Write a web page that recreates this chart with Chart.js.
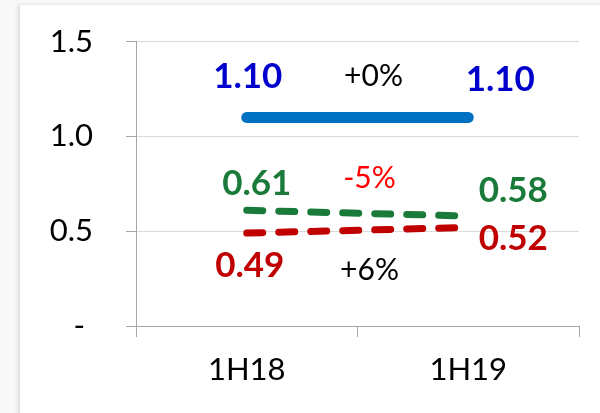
<!DOCTYPE html>
<html>
<head>
<meta charset="utf-8">
<script src="https://cdn.jsdelivr.net/npm/chart.js@4"></script>
<style>
  html, body { margin: 0; padding: 0; background: #f8f8f8; }
  #wrap { position: relative; width: 600px; height: 413px; overflow: hidden; }
  #card { position: absolute; left: 20px; top: 5px; width: 600px; height: 420px; background: #fff;
          box-shadow: -2px 0 4px rgba(0,0,0,0.12); }
  canvas { position: absolute; left: 0; top: -10px; }
</style>
</head>
<body>
<div id="wrap">
  <div id="card"></div>
  <canvas id="chart" width="600" height="423"></canvas>
</div>
<script>
// dati
const categories = ['1H18', '1H19'];
const blueValues = [1.10, 1.10];
const greenValues = [0.61, 0.58];
const redValues = [0.49, 0.52];
const changeLabels = ['+0%', '-5%', '+6%'];
const yTicks = [0, 0.5, 1.0, 1.5];

const FONT = 'Lato, "Open Sans", sans-serif';

// posizione delle etichette rispetto ai punti (dx, dy)
const valueLabelStyle = [
  { color: '#0000CC', offs: [[1, -41], [32, -38]] },
  { color: '#1A7A3A', offs: [[10, -27], [45, -25]] },
  { color: '#C00000', offs: [[3, 33], [45, 11]] }
];
const changeStyle = [
  { color: '#000000', dx: 16, dy: -41 },
  { color: '#FF0000', dx: 12, dy: -35 },
  { color: '#000000', dx: 12, dy: 40 }
];

// disegna etichette dei valori e variazioni percentuali
const labelPlugin = {
  id: 'labels',
  afterDatasetsDraw(chart) {
    const ctx = chart.ctx;
    const xs = chart.scales.x, ys = chart.scales.y;
    ctx.save();
    ctx.textAlign = 'center';
    ctx.textBaseline = 'middle';
    chart.data.datasets.forEach((ds, i) => {
      const st = valueLabelStyle[i];
      ctx.font = 'bold 35px ' + FONT;
      ctx.fillStyle = st.color;
      ds.data.forEach((v, j) => {
        const x = xs.getPixelForValue(j) + st.offs[j][0];
        const y = ys.getPixelForValue(v) + st.offs[j][1];
        ctx.fillText(v.toFixed(2), x, y);
      });
      const cs = changeStyle[i];
      const midX = (xs.getPixelForValue(0) + xs.getPixelForValue(1)) / 2;
      const midY = ys.getPixelForValue((ds.data[0] + ds.data[1]) / 2);
      ctx.font = '30px ' + FONT;
      ctx.fillStyle = cs.color;
      ctx.fillText(changeLabels[i], midX + cs.dx, midY + cs.dy);
    });
    ctx.restore();
  }
};

new Chart(document.getElementById('chart'), {
  type: 'line',
  data: {
    labels: categories,
    datasets: [
      { data: blueValues, borderColor: '#0070C0', borderWidth: 11, borderCapStyle: 'round', pointRadius: 0 },
      { data: greenValues, borderColor: '#1A7A3A', borderWidth: 7, borderDash: [16, 16], borderCapStyle: 'round', pointRadius: 0 },
      { data: redValues, borderColor: '#C00000', borderWidth: 7, borderDash: [16, 16], borderCapStyle: 'round', pointRadius: 0 }
    ]
  },
  options: {
    responsive: false,
    animation: false,
    layout: { padding: { top: 0, right: 21, left: 0, bottom: 0 } },
    plugins: { legend: { display: false }, tooltip: { enabled: false } },
    scales: {
      x: {
        offset: true,
        grid: { offset: true, drawOnChartArea: false, tickLength: 11, tickColor: '#a6a6a6' },
        border: { color: '#a6a6a6', width: 1 },
        ticks: { color: '#000', font: { family: FONT, size: 31 }, padding: 14 },
        afterFit: s => { s.height = 87; }
      },
      y: {
        min: 0, max: 1.5,
        afterBuildTicks: s => { s.ticks = yTicks.map(v => ({ value: v })); },
        grid: { color: '#d9d9d9', tickLength: 10, tickColor: '#a6a6a6' },
        border: { color: '#a6a6a6', width: 1 },
        ticks: {
          color: '#000', font: { family: FONT, size: 31 }, padding: 33,
          callback: v => v === 0 ? '- ' : v.toFixed(1)
        },
        afterFit: s => { s.width = 136; }
      }
    }
  },
  plugins: [labelPlugin]
});
</script>
</body>
</html>
